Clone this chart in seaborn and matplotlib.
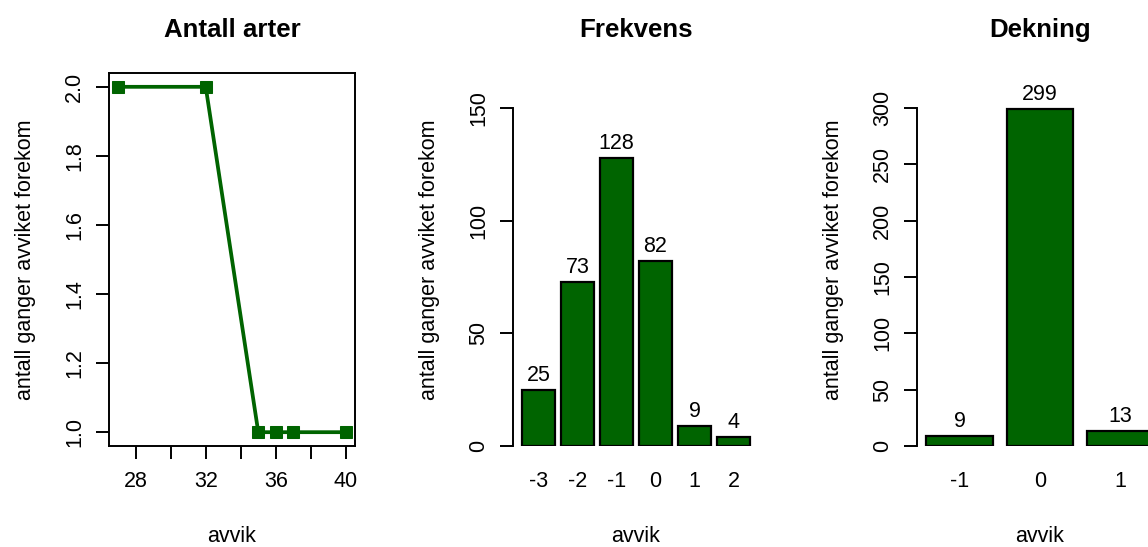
import matplotlib
matplotlib.use("Agg")
import matplotlib.pyplot as plt
import seaborn as sns
import pandas as pd

# data
arter_x = [27, 32, 35, 36, 37, 40]
arter_y = [2, 2, 1, 1, 1, 1]
frek_avvik = ["-3", "-2", "-1", "0", "1", "2"]
frek_antall = [25, 73, 128, 82, 9, 4]
dekn_avvik = ["-1", "0", "1"]
dekn_antall = [9, 299, 13]

GREEN = "#006400"
W, H = 1148, 547
FS = 15.5          # base font, pt (dpi 100)
TICK = 9.3         # tick length, pt

sns.set_style("ticks")
plt.rcParams["font.family"] = ["Liberation Sans", "DejaVu Sans"]
plt.rcParams["axes.linewidth"] = 1.4
plt.rcParams["text.color"] = "black"
plt.rcParams["axes.labelcolor"] = "black"
plt.rcParams["axes.edgecolor"] = "black"
plt.rcParams["xtick.color"] = "black"
plt.rcParams["ytick.color"] = "black"

fig = plt.figure(figsize=(W / 100, H / 100), dpi=100)


def make_ax(left_px):
    # plot region is 246 px wide, 73..446 px from the top
    return fig.add_axes([left_px / W, 1 - 446 / H, 246 / W, 373 / H])


def common(ax, title):
    ax.set_title(title, fontsize=FS * 1.2, fontweight="bold", pad=26)
    ax.set_xlabel("avvik", fontsize=FS)
    ax.set_ylabel("antall ganger avviket forekom", fontsize=FS)
    ax.xaxis.set_label_coords(0.5, -80 / 373)
    ax.yaxis.set_label_coords(-73 / 246, 0.5)
    ax.tick_params(axis="y", labelrotation=90, length=TICK, width=1.4, pad=8, labelsize=FS)
    for lab in ax.get_yticklabels():
        lab.set_verticalalignment("center")


# Antall arter
ax1 = make_ax(109)
sns.lineplot(x=arter_x, y=arter_y, ax=ax1, color=GREEN, linewidth=2.7,
             marker="s", markersize=8, markeredgecolor=GREEN)
ax1.set_xlim(26.48, 40.52)
ax1.set_ylim(0.96, 2.04)
ax1.set_xticks([28, 30, 32, 34, 36, 38, 40])
ax1.set_xticklabels(["28", "", "32", "", "36", "", "40"])
ax1.set_yticks([1.0, 1.2, 1.4, 1.6, 1.8, 2.0])
ax1.set_yticklabels(["1.0", "1.2", "1.4", "1.6", "1.8", "2.0"])
ax1.tick_params(axis="x", length=TICK, width=1.4, pad=9, labelsize=FS)
common(ax1, "Antall arter")


def bars(ax, cats, vals, ymax, yticks):
    df = pd.DataFrame({"avvik": cats, "antall": vals})
    sns.barplot(data=df, x="avvik", y="antall", order=cats, ax=ax, color=GREEN,
                saturation=1, width=1 / 1.2, edgecolor="black", linewidth=1.6)
    for p, v in zip(ax.patches, vals):
        ax.annotate(str(v), (p.get_x() + p.get_width() / 2, v), xytext=(0, 9),
                    textcoords="offset pixels", ha="center", va="baseline", fontsize=FS)
    pad = 0.04 * (len(cats) - 1 / 6)
    ax.set_xlim(-0.5 / 1.2 - pad, len(cats) - 1 + 0.5 / 1.2 + pad)
    ax.set_ylim(0, ymax)
    ax.set_yticks(yticks)
    ax.set_yticklabels([str(t) for t in yticks])
    ax.spines["left"].set_bounds(yticks[0], yticks[-1])
    for s in ["top", "right", "bottom"]:
        ax.spines[s].set_visible(False)
    ax.tick_params(axis="x", length=0, pad=9 + TICK, labelsize=FS)


ax2 = make_ax(513)
bars(ax2, frek_avvik, frek_antall, 165.7, [0, 50, 100, 150])
common(ax2, "Frekvens")

ax3 = make_ax(917)
bars(ax3, dekn_avvik, dekn_antall, 331, [0, 50, 100, 150, 200, 250, 300])
common(ax3, "Dekning")

fig.savefig("out.png", dpi=100)
